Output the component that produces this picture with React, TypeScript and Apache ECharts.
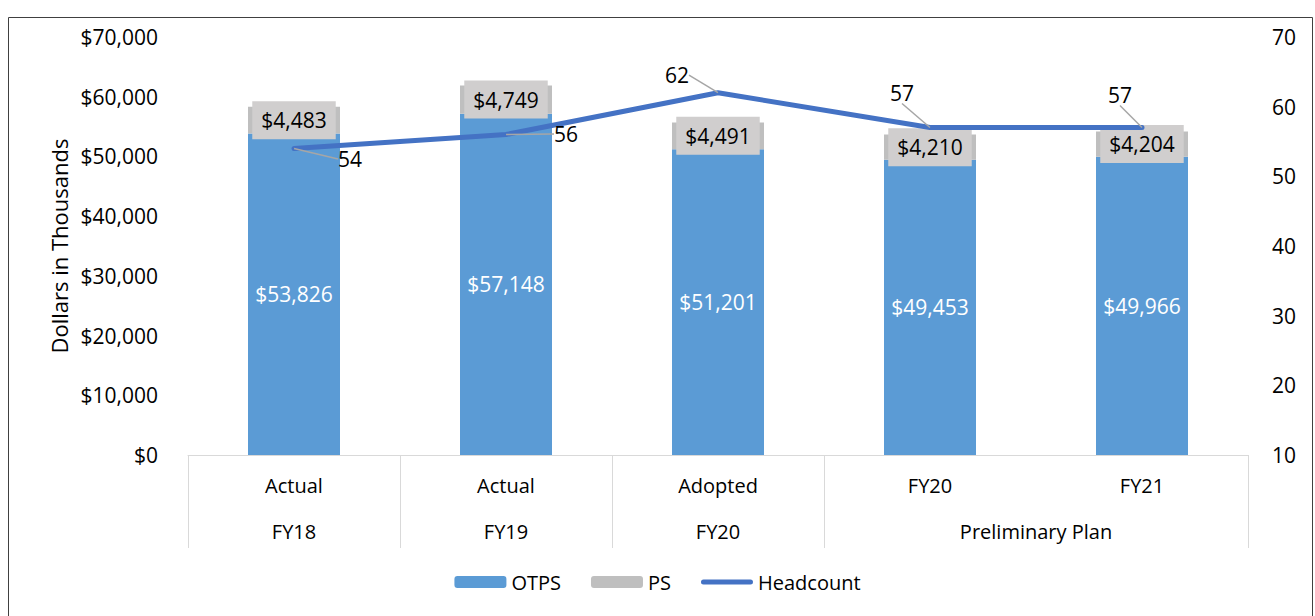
import React, { useEffect, useRef } from "react";
import * as echarts from "echarts";

const categories = ["Actual", "Actual", "Adopted", "FY20", "FY21"];
const groupLabels = ["FY18", "FY19", "FY20", "Preliminary Plan"];
const groupSpans = [1, 1, 1, 2];
const otps = [53826, 57148, 51201, 49453, 49966];
const ps = [4483, 4749, 4491, 4210, 4204];
const headcount = [54, 56, 62, 57, 57];
const leftTicks = { min: 0, max: 70000, interval: 10000 };
const rightTicks = { min: 10, max: 70, interval: 10 };

// label offsets (styling only)
const hcLabelOffsets = [
  [56, 26],
  [60, 15],
  [-41, -2],
  [-28, -19],
  [-22, -17],
];

const FONT = "'Open Sans', 'Noto Sans', sans-serif";
const FS = 21;

const money = (v: number) => "$" + v.toLocaleString("en-US");

export default function App() {
  const ref = useRef<HTMLDivElement>(null);
  useEffect(() => {
    document.body.style.margin = "0";
    const chart = echarts.init(ref.current!, undefined, { renderer: "svg" });

    const bounds: number[] = [0];
    const centers: number[] = [];
    let acc = 0;
    groupSpans.forEach((s) => {
      centers.push(acc + s / 2);
      acc += s;
      bounds.push(acc);
    });

    chart.setOption({
      animation: false,
      textStyle: { fontFamily: FONT },
      graphic: [
        {
          type: "rect",
          shape: { x: 8.5, y: 17.5, width: 1304, height: 640 },
          style: { fill: "none", stroke: "#404040", lineWidth: 1 },
          silent: true,
        },
      ],
      grid: { left: 188, right: 67, top: 37, bottom: 161 },
      legend: {
        bottom: 19,
        itemWidth: 52,
        itemHeight: 12,
        itemGap: 30,
        textStyle: { fontSize: FS - 1, color: "#000", fontFamily: FONT },
        data: [
          "OTPS",
          "PS",
          {
            name: "Headcount",
            icon: "path://M2.5,0 H49.5 A2.5,2.5 0 0 1 49.5,5 H2.5 A2.5,2.5 0 0 1 2.5,0 Z",
          },
        ],
      },
      xAxis: [
        {
          type: "category",
          data: categories,
          axisLine: { lineStyle: { color: "#d9d9d9", width: 1 } },
          axisTick: { show: false },
          axisLabel: { fontSize: FS - 1, color: "#000", margin: 20, fontFamily: FONT },
        },
        {
          type: "value",
          min: 0,
          max: categories.length,
          position: "bottom",
          axisLine: { show: false },
          splitLine: { show: false },
          axisTick: {
            show: true,
            length: 93,
            customValues: bounds,
            lineStyle: { color: "#d9d9d9", width: 1 },
          },
          axisLabel: {
            show: true,
            customValues: centers,
            margin: 66,
            fontSize: FS - 1,
            color: "#000",
            fontFamily: FONT,
            formatter: (v: number) => {
              const i = centers.findIndex((c) => Math.abs(c - v) < 1e-6);
              return i >= 0 ? groupLabels[i] : "";
            },
          },
        },
      ],
      yAxis: [
        {
          type: "value",
          ...leftTicks,
          name: "Dollars in Thousands",
          nameLocation: "middle",
          nameGap: 118,
          nameTextStyle: { fontSize: 22, color: "#000", fontFamily: FONT },
          axisLine: { show: false },
          axisTick: { show: false },
          splitLine: { show: false },
          axisLabel: {
            fontSize: FS,
            color: "#000",
            margin: 30,
            fontFamily: FONT,
            formatter: (v: number) => money(v),
          },
        },
        {
          type: "value",
          ...rightTicks,
          position: "right",
          axisLine: { show: false },
          axisTick: { show: false },
          splitLine: { show: false },
          axisLabel: { fontSize: FS, color: "#000", margin: 24, fontFamily: FONT },
        },
      ],
      series: [
        {
          name: "OTPS",
          type: "bar",
          stack: "total",
          barWidth: 92,
          data: otps,
          itemStyle: { color: "#5B9BD5" },
          label: {
            show: true,
            position: "inside",
            color: "#fff",
            fontSize: FS,
            fontFamily: FONT,
            formatter: (p: any) => money(p.value),
          },
        },
        {
          name: "PS",
          type: "bar",
          stack: "total",
          barWidth: 92,
          data: ps,
          itemStyle: { color: "#BFBFBF" },
          label: {
            show: true,
            position: "inside",
            color: "#000",
            fontSize: FS,
            lineHeight: 25,
            fontFamily: FONT,
            backgroundColor: "#D0CECE",
            padding: [7, 9, 6, 9],
            formatter: (p: any) => money(p.value),
          },
        },
        {
          name: "Headcount",
          type: "line",
          yAxisIndex: 1,
          data: headcount,
          symbol: "circle",
          symbolSize: 0.1,
          showSymbol: true,
          lineStyle: { color: "#4472C4", width: 5, cap: "round" },
          itemStyle: { color: "#4472C4" },
          z: 3,
          label: {
            show: true,
            position: "top",
            color: "#000",
            fontSize: FS,
            fontFamily: FONT,
          },
          labelLine: {
            show: true,
            lineStyle: { color: "#A6A6A6", width: 1.5 },
          },
          labelLayout: (params: any) => {
            const o = hcLabelOffsets[params.dataIndex] || [0, 0];
            return { dx: o[0], dy: o[1] };
          },
        },
      ],
    });
    return () => chart.dispose();
  }, []);
  return <div ref={ref} style={{ width: 1315, height: 616 }} />;
}
